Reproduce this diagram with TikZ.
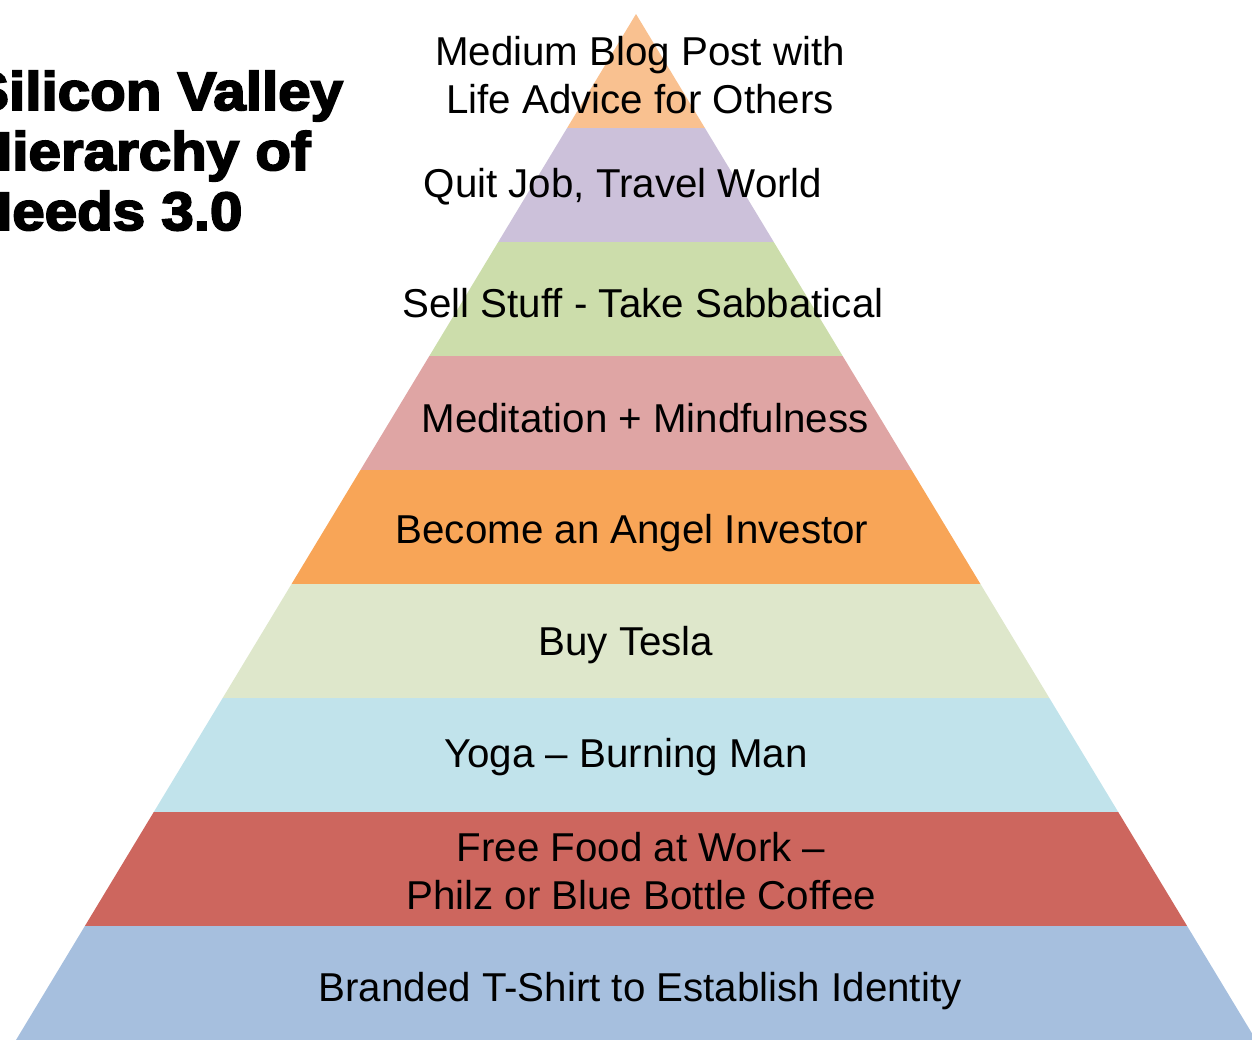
\documentclass[tikz,border=0pt]{standalone}
\usepackage{fontspec}
\setmainfont{Liberation Sans}
\newfontfamily\titlefont[BoldFeatures={FakeBold=3.5,FakeStretch=1.08}]{Liberation Sans}
\usepackage{tikz}
\definecolor{pesca}{HTML}{F9C190}
\definecolor{lavanda}{HTML}{CCC1DA}
\definecolor{salvia}{HTML}{CCDDAB}
\definecolor{rosa}{HTML}{DFA5A4}
\definecolor{arancio}{HTML}{F8A557}
\definecolor{verdino}{HTML}{DEE7CB}
\definecolor{celeste}{HTML}{C1E3EB}
\definecolor{mattone}{HTML}{CD665E}
\definecolor{azzurro}{HTML}{A6BFDE}
\tikzset{
livello/.style={font=\fontsize{40.3}{48}\selectfont,align=center,anchor=base,inner sep=0pt},
titolo/.style={font=\titlefont\bfseries\fontsize{54}{60}\selectfont,align=left,anchor=base west,inner sep=0pt}}

\begin{document}
\begin{tikzpicture}[x=1pt,y=-1pt]
\useasboundingbox (0,0) rectangle (1252,1040);

\coordinate (apice) at (636,14);
\coordinate (bs) at (16,1040);
\coordinate (bd) at (1256,1040);

\begin{scope}
\clip (apice) -- (bs) -- (bd) -- cycle;
\foreach \c [count=\i from 0] in {pesca,lavanda,salvia,rosa,arancio,verdino,celeste,mattone,azzurro}
	\fill[\c] (0,14+114*\i) rectangle (1260,128+114*\i);
\end{scope}

\node[titolo] (tit) at (-30,230) {Silicon Valley\\Hierarchy of\\Needs 3.0};

\node[livello] (l1) at (640,114) {Medium Blog Post with\\Life Advice for Others};
\node[livello] (l2) at (623,198) {Quit Job, Travel World};
\node[livello] (l3) at (643,318) {Sell Stuff - Take Sabbatical};
\node[livello] (l4) at (645,432) {Meditation + Mindfulness};
\node[livello] (l5) at (632,543) {Become an Angel Investor};
\node[livello] (l6) at (626,655) {Buy Tesla};
\node[livello] (l7) at (626,767) {Yoga -- Burning Man};
\node[livello] (l8) at (641,909) {Free Food at Work --\\Philz or Blue Bottle Coffee};
\node[livello] (l9) at (640,1001) {Branded T-Shirt to Establish Identity};
\end{tikzpicture}
\end{document}
